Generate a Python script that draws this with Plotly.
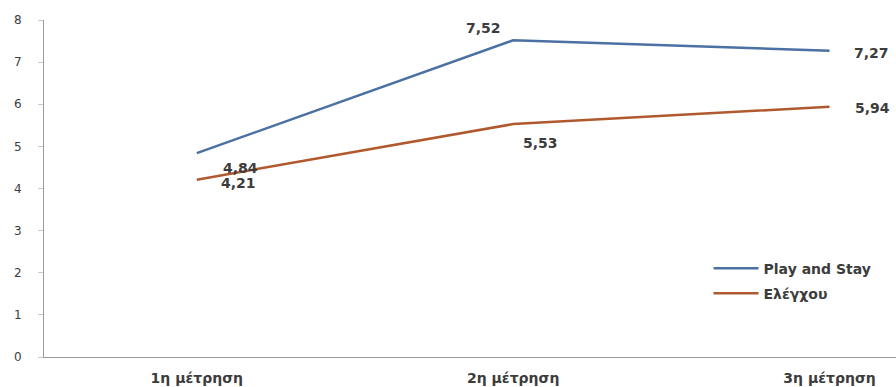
import plotly.graph_objects as go

# Measurement rounds and mean scores per group
rounds = ["1η μέτρηση", "2η μέτρηση", "3η μέτρηση"]
play_and_stay = [4.84, 7.52, 7.27]
control = [4.21, 5.53, 5.94]

BLUE = "#4a70a4"
BROWN = "#b0592e"
TEXT = "#3c3c3c"
FONT = "DejaVu Sans"

fig = go.Figure()
fig.add_trace(go.Scatter(
    x=rounds, y=play_and_stay, name="Play and Stay", legendgroup="a",
    mode="lines", line=dict(color=BLUE, width=2.5),
))
fig.add_trace(go.Scatter(
    x=rounds, y=control, name="Ελέγχου", legendgroup="b",
    mode="lines", line=dict(color=BROWN, width=2.5),
))

# value labels, offset from their points (pixels)
label_offsets = {
    0: [(44, -15), (-30, 12), (42, -2)],
    1: [(42, -3), (27, -19), (43, -1)],
}
for ti, series in enumerate([play_and_stay, control]):
    for i, (cat, val) in enumerate(zip(rounds, series)):
        dx, dy = label_offsets[ti][i]
        fig.add_annotation(
            x=cat, y=val, text=f"{val:.2f}".replace(".", ","),
            showarrow=False, xshift=dx, yshift=dy,
            font=dict(family=FONT, size=14, color=TEXT, weight=600),
        )

fig.update_layout(
    width=896, height=387,
    margin=dict(l=44, r=0, t=20, b=30),
    paper_bgcolor="white", plot_bgcolor="white",
    separators=",.",
    font=dict(family=FONT, size=12, color=TEXT),
    showlegend=True,
    legend=dict(x=0.78, y=0.31, xanchor="left", yanchor="top",
                bgcolor="rgba(0,0,0,0)",
                font=dict(size=14, color=TEXT, weight=600),
                itemwidth=45, tracegroupgap=4),
    xaxis=dict(
        type="category", range=[-0.483, 2.21],
        showline=True, linecolor="#9a9a9a", linewidth=1,
        showgrid=False, ticks="", ticklabelstandoff=8,
        tickfont=dict(size=14, color=TEXT, weight=600),
        zeroline=False,
    ),
    yaxis=dict(
        range=[0, 8], dtick=1, showline=True, linecolor="#9a9a9a",
        linewidth=1, showgrid=False, ticks="outside", ticklen=5,
        tickcolor="#c8c8c8", ticklabelstandoff=14,
        tickfont=dict(size=12, color=TEXT),
        zeroline=False,
    ),
)

fig.write_html("out.html")
